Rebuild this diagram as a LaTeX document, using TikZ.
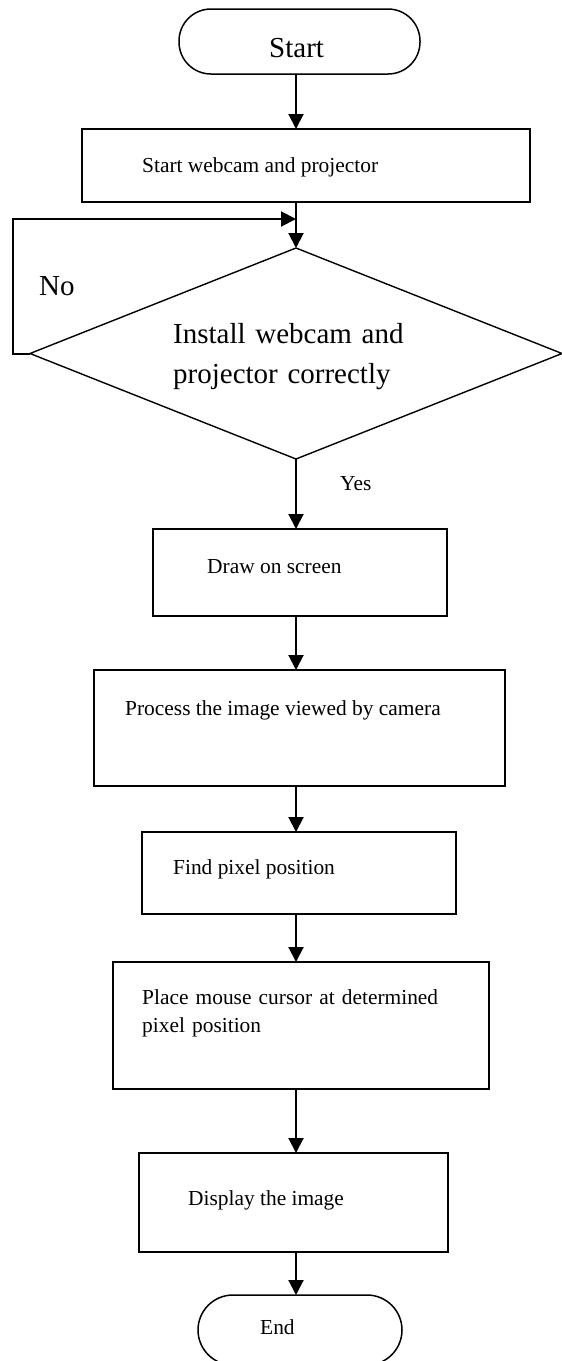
\documentclass[tikz,border=0pt]{standalone}
\usepackage{fontspec}
\setmainfont{Liberation Serif}
\usetikzlibrary{arrows.meta,shapes.geometric}
\tikzset{
  box/.style={draw, rectangle, line width=1.6pt, inner sep=0pt, outer sep=0pt},
  term/.style={draw, rectangle, line width=1.5pt, inner sep=0pt, outer sep=0pt},
  decide/.style={draw, diamond, line width=1.4pt, inner sep=0pt, outer sep=0pt},
  flow/.style={line width=2pt, -{Triangle[length=15pt,width=15pt]}},
  small/.style={font=\fontsize{21.4}{28}\selectfont, inner sep=0pt, anchor=base west},
  big/.style={font=\fontsize{29}{40}\selectfont, inner sep=0pt, anchor=base west}
}
\begin{document}
\begin{tikzpicture}[x=1pt,y=-1pt]
\useasboundingbox (0,0) rectangle (562,1361);
% shapes
\node[term, rounded corners=32pt, minimum width=241pt, minimum height=65pt] (start) at (299.5,41.5) {};
\node[box, minimum width=448pt, minimum height=73pt] (cam) at (306,165.5) {};
\node[decide, minimum width=532pt, minimum height=211pt] (dec) at (296,353.5) {};
\node[box, minimum width=294pt, minimum height=87pt] (draw) at (300,572.5) {};
\node[box, minimum width=411pt, minimum height=116pt] (proc) at (299.5,728) {};
\node[box, minimum width=314pt, minimum height=82pt] (find) at (299,873) {};
\node[box, minimum width=376pt, minimum height=127pt] (place) at (301,1025.5) {};
\node[box, minimum width=309pt, minimum height=99pt] (disp) at (293.5,1202.5) {};
\node[term, rounded corners=35pt, minimum width=204pt, minimum height=70pt] (end) at (300,1330) {};
% texts
\node[big] (tstart) at (269,57) {Start};
\node[small] (tcam) at (142,172) {Start webcam and projector};
\node[big, text width=300pt, align=left] (tdec) at (173,343) {Install webcam and\\projector correctly};
\node[big] (tno) at (39,295) {No};
\node[small] (tyes) at (340,490) {Yes};
\node[small] (tdraw) at (207,573) {Draw on screen};
\node[small] (tproc) at (125,715) {Process the image viewed by camera};
\node[small] (tfind) at (173,874) {Find pixel position};
\node[small, text width=340pt, align=left] (tplace) at (142,1004) {Place mouse cursor at determined\\pixel position};
\node[small] (tdisp) at (188,1205) {Display the image};
\node[small] (tend) at (260,1334) {End};
% axis helpers
\coordinate (ax) at (296,0);
\coordinate (merge) at (296,219);
\coordinate (loopx) at (13,0);
% connectors
\draw[flow] (start.south -| ax) -- (cam.north -| ax);
\draw[flow] (cam.south -| ax) -- (dec.north);
\draw[flow] (dec.west) -- (dec.west -| loopx) |- (merge);
\draw[flow] (dec.south) -- (draw.north -| ax);
\draw[flow] (draw.south -| ax) -- (proc.north -| ax);
\draw[flow] (proc.south -| ax) -- (find.north -| ax);
\draw[flow] (find.south -| ax) -- (place.north -| ax);
\draw[flow] (place.south -| ax) -- (disp.north -| ax);
\draw[flow] (disp.south -| ax) -- (end.north -| ax);
\end{tikzpicture}
\end{document}
